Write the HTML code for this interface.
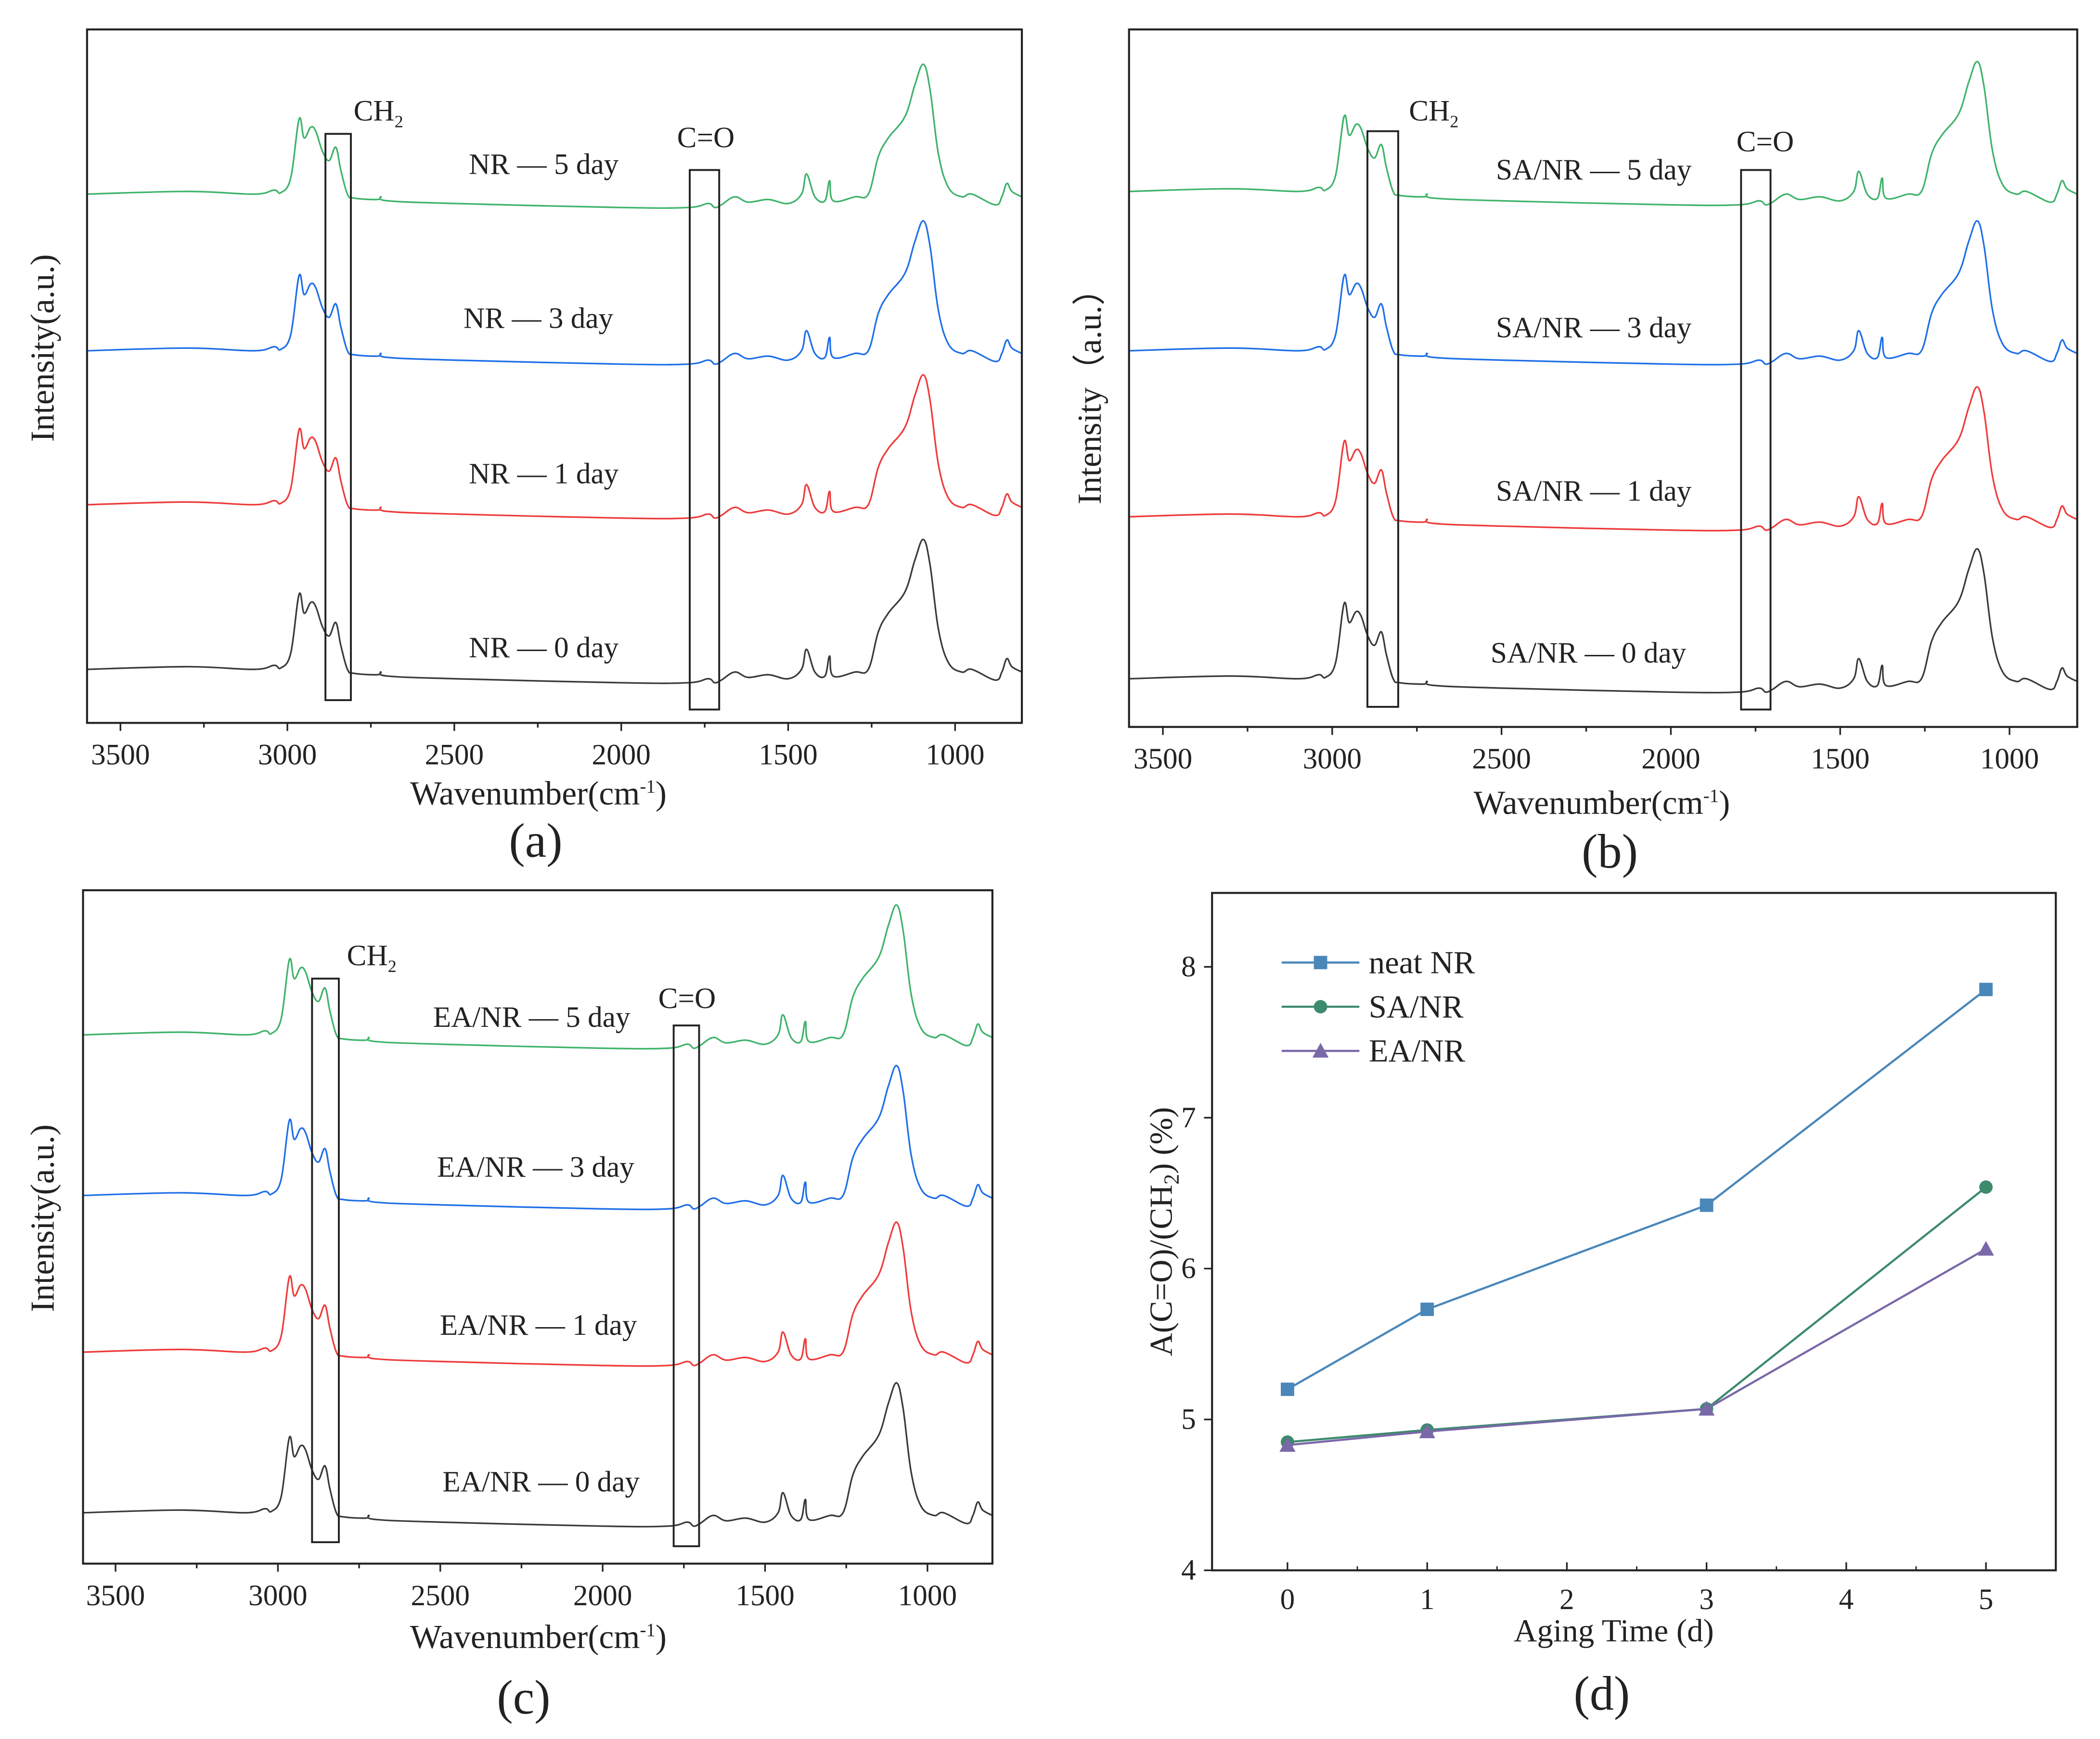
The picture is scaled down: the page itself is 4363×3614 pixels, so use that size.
<!DOCTYPE html>
<html><head><meta charset="utf-8"><style>
html,body{margin:0;padding:0;background:#fff;}
svg{display:block;}
svg text{font-family:"Liberation Serif","DejaVu Serif",serif;fill:#222;}
</style></head>
<body>
<svg id="fig" xmlns="http://www.w3.org/2000/svg" width="4363" height="3614" viewBox="0 0 1568 1299" preserveAspectRatio="none" font-family="Liberation Serif, DejaVu Serif, serif">
<rect x="0" y="0" width="1568" height="1299" fill="#fff"/>
</svg>
<script>
// ---- spectrum data (wavenumber cm-1, relative intensity a.u.) ----
const wavenumbers = [3600,3300,3100,3040,3020,2990,2965,2950,2930,2915,2895,2875,2855,2840,2820,2800,2730,2720,2700,2500,2000,1800,1740,1720,1700,1660,1620,1560,1500,1460,1445,1420,1390,1376,1365,1300,1260,1230,1200,1150,1120,1095,1075,1050,1020,980,950,880,860,845,830,800];
const intensity = [10,12,10,13,11,22,66,52,60,57,42,35,45,28,10,7,6,8,5,3,0,0,3,0,2,8,4,6,3,10,25,8,5,20,5,8,10,38,52,68,92,107,88,40,15,8,10,2,8,18,12,8];
// offsets of each ageing day curve per panel (a.u.)
const dayLabels = ["0 day","1 day","3 day","5 day"];
const offsetsA = [30,153,268,385];
const offsetsB = [26,147,271,390];
const offsetsC = [28,148,265,385];
const xTicksSpec = [3500,3000,2500,2000,1500,1000];
// ---- panel d data ----
const agingDays = [0,1,3,5];
const neatNR = [5.2,5.73,6.42,7.85];
const saNR = [4.85,4.93,5.07,6.54];
const eaNR = [4.83,4.92,5.07,6.13];
const dXTicks = [0,1,2,3,4,5];
const dYTicks = [4,5,6,7,8];

const NS="http://www.w3.org/2000/svg";
const svg=document.getElementById('fig');
const FF="Liberation Serif, DejaVu Serif, serif";
function el(tag,attrs,parent){const e=document.createElementNS(NS,tag);for(const k in attrs)e.setAttribute(k,attrs[k]);if(tag==='text')e.setAttribute('font-family',FF);(parent||svg).appendChild(e);return e;}
const colors=["#3a3a3a","#ee3b3b","#1f6fe8","#3fb36b"];
function smoothPath(P){
  let d="M"+P[0][0].toFixed(2)+" "+P[0][1].toFixed(2);
  for(let i=0;i<P.length-1;i++){
    const p0=P[Math.max(0,i-1)],p1=P[i],p2=P[i+1],p3=P[Math.min(P.length-1,i+2)];
    const t=0.18;
    const c1=[p1[0]+(p2[0]-p0[0])*t,p1[1]+(p2[1]-p0[1])*t];
    const c2=[p2[0]-(p3[0]-p1[0])*t,p2[1]-(p3[1]-p1[1])*t];
    d+="C"+c1[0].toFixed(2)+" "+c1[1].toFixed(2)+" "+c2[0].toFixed(2)+" "+c2[1].toFixed(2)+" "+p2[0].toFixed(2)+" "+p2[1].toFixed(2);
  }
  return d;
}

function specPanel(p){
  const g=el('g',{});
  
  
  const X=w=>p.x0+(3600-w)/(3600-800)*(p.x1-p.x0);
  const Y=v=>p.y1-v/p.ymax*(p.y1-p.y0);
  for(let s=0;s<4;s++){
    const P=wavenumbers.map((w,i)=>[X(w),Y(intensity[i]+p.offsets[s])]);
    const path=el('path',{d:smoothPath(P),fill:"none",stroke:colors[s],"stroke-width":1.2,"stroke-linejoin":"round"},g);
    
    
  }
  const fr=el('rect',{x:p.x0,y:p.y0,width:p.x1-p.x0,height:p.y1-p.y0,fill:"none",stroke:"#222","stroke-width":1.5},g);
  
  
  for(let w=3500;w>=800;w-=250){
    const major=(w%500===0);
    el('line',{x1:X(w),x2:X(w),y1:p.y1,y2:p.y1+(major?6:3.5),stroke:"#222","stroke-width":1.2},g);
  }
  xTicksSpec.forEach(t=>{
    const tx=el('text',{x:X(t),y:p.y1+31,"font-size":22,"text-anchor":"middle"},g);
    tx.textContent=t;
    
    
  });
  [p.ch2,p.co].forEach(b=>{
    el('rect',{x:b[0],y:b[1],width:b[2]-b[0],height:b[3]-b[1],fill:"none",stroke:"#222","stroke-width":1.4},g);
  });
  const ch=el('text',{x:p.ch2t[0],y:p.ch2t[1],"font-size":22},g);
  ch.innerHTML='CH<tspan font-size="13" dy="5">2</tspan>';
  
  
  const co=el('text',{x:p.cot[0],y:p.cot[1],"font-size":22,"text-anchor":"middle"},g);
  co.textContent='C=O';
  
  
  for(let s=0;s<4;s++){
    const t=el('text',{x:p.lab[s][0],y:p.lab[s][1],"font-size":22,"text-anchor":"middle"},g);
    t.textContent=p.prefix+" — "+dayLabels[s];
    
    
  }
  const yl=el('text',{x:0,y:0,"font-size":25,"text-anchor":"middle",transform:`translate(${p.ylab[0]},${p.ylab[1]}) rotate(-90)`},g);
  yl.textContent=p.ytitle;
  
  
  const xl=el('text',{x:p.xlab[0],y:p.xlab[1],"font-size":25,"text-anchor":"middle"},g);
  xl.innerHTML='Wavenumber(cm<tspan font-size="14" dy="-9">-1</tspan><tspan dy="9">)</tspan>';
  
  
  const pl=el('text',{x:p.plab[0],y:p.plab[1],"font-size":36,"text-anchor":"middle"},g);
  pl.textContent=p.letter;
  
  
}

specPanel({name:'panel-a',x0:65,x1:763,y0:22,y1:540,ymax:518,offsets:offsetsA,prefix:'NR',
  ch2:[243,100,262,523],co:[515,127,537,530],ch2t:[264,90],cot:[527,110],
  lab:[[406,491],[406,361],[402,245],[406,130]],ytitle:'Intensity(a.u.)',ylab:[40,260],xlab:[402,601],plab:[400,640],letter:'(a)'});
specPanel({name:'panel-b',x0:843,x1:1551,y0:22,y1:543,ymax:521,offsets:offsetsB,prefix:'SA/NR',
  ch2:[1021,98,1044,528],co:[1300,127,1322,530],ch2t:[1052,90],cot:[1318,113],
  lab:[[1186,495],[1190,374],[1190,252],[1190,134]],ytitle:'Intensity（a.u.）',ylab:[822,290],xlab:[1196,608],plab:[1202,648],letter:'(b)'});
specPanel({name:'panel-c',x0:62,x1:741,y0:665,y1:1168,ymax:503,offsets:offsetsC,prefix:'EA/NR',
  ch2:[233,731,253,1152],co:[503,766,522,1155],ch2t:[259,721],cot:[513,753],
  lab:[[404,1114],[402,997],[400,879],[397,767]],ytitle:'Intensity(a.u.)',ylab:[40,910],xlab:[402,1231],plab:[391,1280],letter:'(c)'});

(function(){
  const x0=905,x1=1535,y0=667,y1=1173;
  const X=v=>x0+(v+0.54)/6.04*(x1-x0);
  const Y=v=>y1-(v-4)/4.49*(y1-y0);
  const g=el('g',{});
  
  
  const fr=el('rect',{x:x0,y:y0,width:x1-x0,height:y1-y0,fill:"none",stroke:"#222","stroke-width":1.5},g);
  
  
  dXTicks.forEach(t=>{
    el('line',{x1:X(t),x2:X(t),y1:y1,y2:y1-6,stroke:"#222","stroke-width":1.2},g);
    el('line',{x1:X(t+0.5),x2:X(t+0.5),y1:y1,y2:y1-3,stroke:"#222","stroke-width":1},g);
    const tx=el('text',{x:X(t),y:y1+29,"font-size":22,"text-anchor":"middle"},g);
    tx.textContent=t;
    
    
  });
  dYTicks.forEach(t=>{
    el('line',{x1:x0,x2:x0-6,y1:Y(t),y2:Y(t),stroke:"#222","stroke-width":1.2},g);
    const tx=el('text',{x:x0-12,y:Y(t)+7,"font-size":22,"text-anchor":"end"},g);
    tx.textContent=t;
    
    
  });
  const series=[[neatNR,"#4a87b9","sq","neat NR"],[saNR,"#3d8a6d","ci","SA/NR"],[eaNR,"#7a68a8","tr","EA/NR"]];
  function marker(kind,cx,cy,c,parent){
    if(kind==="sq")return el('rect',{x:cx-5,y:cy-5,width:10,height:10,fill:c},parent);
    if(kind==="ci")return el('circle',{cx:cx,cy:cy,r:5,fill:c},parent);
    return el('polygon',{points:`${cx},${cy-6} ${cx+6},${cy+5} ${cx-6},${cy+5}`,fill:c},parent);
  }
  series.forEach((s,si)=>{
    const pts=agingDays.map((d,i)=>X(d).toFixed(2)+","+Y(s[0][i]).toFixed(2)).join(" ");
    const pl=el('polyline',{points:pts,fill:"none",stroke:s[1],"stroke-width":1.6},g);
    
    
    agingDays.forEach((d,i)=>{
      const m=marker(s[2],X(d),Y(s[0][i]),s[1],g);
      
      
    });
    const ly=719+si*33;
    const lg=el('g',{},g);
    
    
    el('line',{x1:957,x2:1015,y1:ly,y2:ly,stroke:s[1],"stroke-width":1.6},lg);
    marker(s[2],986,ly,s[1],lg);
    const t=el('text',{x:1022,y:ly+8,"font-size":24},lg);
    t.textContent=s[3];
  });
  const yl=el('text',{x:0,y:0,"font-size":24,"text-anchor":"middle",transform:`translate(875,920) rotate(-90)`},g);
  yl.innerHTML='A(C=O)/(CH<tspan font-size="16" dy="5">2</tspan><tspan dy="-5">) (%)</tspan>';
  
  
  const xl=el('text',{x:1205,y:1226,"font-size":24,"text-anchor":"middle"},g);
  xl.textContent='Aging Time (d)';
  
  
  const pl=el('text',{x:1196,y:1277,"font-size":36,"text-anchor":"middle"},g);
  pl.textContent='(d)';
  
  
})();
</script>
</body></html>
